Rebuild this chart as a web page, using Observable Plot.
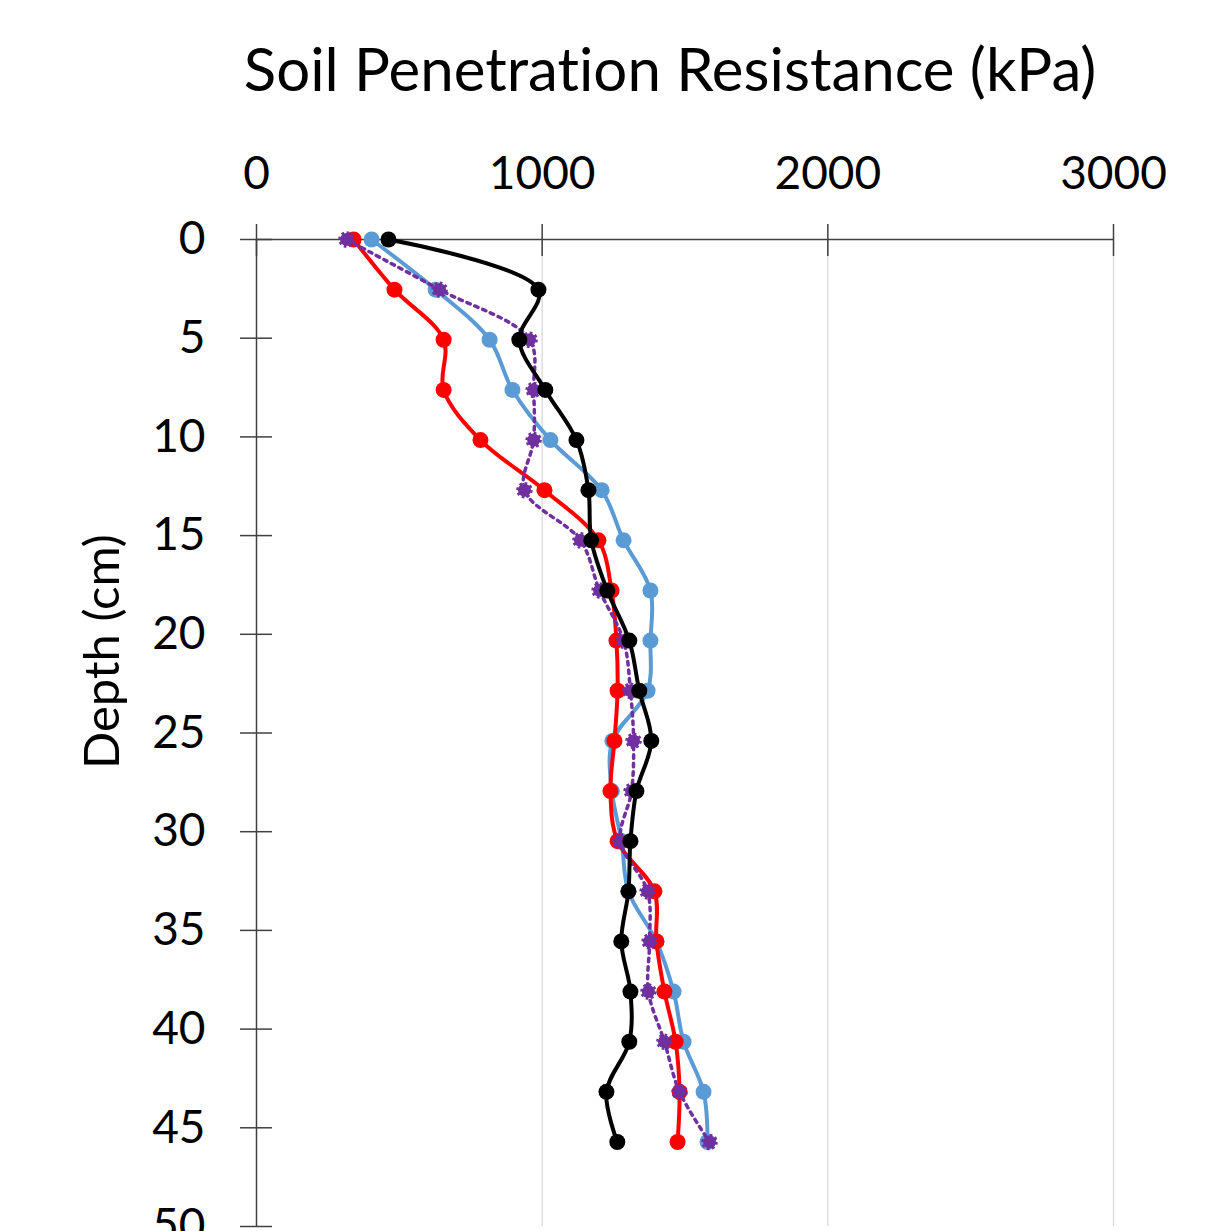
<!DOCTYPE html>
<html>
<head>
<meta charset="utf-8">
<script src="https://cdn.jsdelivr.net/npm/d3@7"></script>
<script src="https://cdn.jsdelivr.net/npm/@observablehq/plot@0.6"></script>
<style>
  html, body { margin: 0; padding: 0; background: white; overflow: hidden; }
  #wrap { position: relative; width: 1231px; height: 1231px; overflow: hidden; }
  #title { position: absolute; left: 0; width: 1340px; top: 38px; text-align: center;
           font-family: Lato, sans-serif; font-size: 60px; color: #000; line-height: 1;
           font-variant-ligatures: none; }
  #chart { position: absolute; left: 0; top: 0; }
  #chart svg text { font-variant-ligatures: none; }
</style>
</head>
<body>
<div id="wrap">
  <div id="chart"></div>
  <div id="title"></div>
</div>
<script>
const titleText = "Soil Penetration Resistance (kPa)";
const yLabel = "Depth (cm)";
const xTicks = [0, 1000, 2000, 3000];
const yTicks = [0, 5, 10, 15, 20, 25, 30, 35, 40, 45, 50];
const depth = [0, 2.54, 5.08, 7.62, 10.16, 12.7, 15.24, 17.78, 20.32, 22.86, 25.4, 27.94, 30.48, 33.02, 35.56, 38.1, 40.64, 43.18, 45.72];
const blueSeries   = [403, 627, 816, 896, 1029, 1208, 1285, 1379, 1379, 1369, 1246, 1244, 1278, 1302, 1400, 1460, 1495, 1565, 1579];
const redSeries    = [340, 483, 655, 655, 784, 1008, 1197, 1243, 1260, 1264, 1253, 1239, 1264, 1393, 1400, 1428, 1467, 1481, 1474];
const purpleSeries = [315, 641, 956, 970, 970, 938, 1134, 1201, 1285, 1309, 1320, 1313, 1274, 1369, 1376, 1372, 1428, 1481, 1586];
const blackSeries  = [462, 987, 920, 1011, 1120, 1162, 1172, 1228, 1305, 1340, 1382, 1330, 1309, 1302, 1277, 1309, 1305, 1225, 1263];

const rows = s => depth.map((d, i) => ({depth: d, value: s[i]}));
const blue = rows(blueSeries), red = rows(redSeries), purple = rows(purpleSeries), black = rows(blackSeries);

document.getElementById("title").textContent = titleText;

const FS = 46;
const fmt = d3.format("d");
const chart = Plot.plot({
  width: 1231,
  height: 1280,
  marginLeft: 256,
  marginRight: 118,
  marginTop: 239,
  marginBottom: 54,
  x: {domain: [0, 3000]},
  y: {domain: [0, 50], reverse: true},
  style: {fontFamily: "Lato, sans-serif", background: "white", color: "#000", overflow: "visible"},
  marks: [
    Plot.ruleX(xTicks.slice(1), {stroke: "#d9d9d9", strokeWidth: 1.3}),
    Plot.ruleY([0], {stroke: "#404040", strokeWidth: 1.5}),
    Plot.ruleX([0], {stroke: "#404040", strokeWidth: 1.5}),
    Plot.axisX({anchor: "top", ticks: xTicks, tickSize: 32, dy: 16, tickFormat: () => "", label: null, stroke: "#404040", strokeWidth: 1.5}),
    Plot.axisX({anchor: "top", ticks: xTicks, tickSize: 0, tickPadding: 51, fontSize: FS, label: null, tickFormat: fmt}),
    Plot.axisY({anchor: "left", ticks: yTicks, tickSize: 32, dx: 16, tickFormat: () => "", label: null, stroke: "#404040", strokeWidth: 1.5}),
    Plot.axisY({anchor: "left", ticks: yTicks, tickSize: 0, tickPadding: 51, fontSize: FS, label: null, tickFormat: fmt}),
    Plot.text([yLabel], {frameAnchor: "left", rotate: -90, dx: -153, dy: 36, fontSize: 49, fill: "#000"}),

    Plot.line(blue, {x: "value", y: "depth", curve: "catmull-rom", stroke: "#5B9BD5", strokeWidth: 4}),
    Plot.dot(blue, {x: "value", y: "depth", r: 8, fill: "#5B9BD5"}),
    Plot.line(red, {x: "value", y: "depth", curve: "catmull-rom", stroke: "#FF0000", strokeWidth: 4}),
    Plot.dot(red, {x: "value", y: "depth", r: 8, fill: "#FF0000"}),
    Plot.line(purple, {x: "value", y: "depth", curve: "catmull-rom", stroke: "#7030A0", strokeWidth: 3.5, strokeDasharray: "3.5,5"}),
    Plot.dot(purple, {x: "value", y: "depth", r: 6.5, fill: "#7030A0", stroke: "#7030A0", strokeWidth: 3.5, strokeDasharray: "2.5,2.5"}),
    Plot.line(black, {x: "value", y: "depth", curve: "catmull-rom", stroke: "#000", strokeWidth: 4}),
    Plot.dot(black, {x: "value", y: "depth", r: 8, fill: "#000"})
  ]
});
document.getElementById("chart").appendChild(chart);
</script>
</body>
</html>
